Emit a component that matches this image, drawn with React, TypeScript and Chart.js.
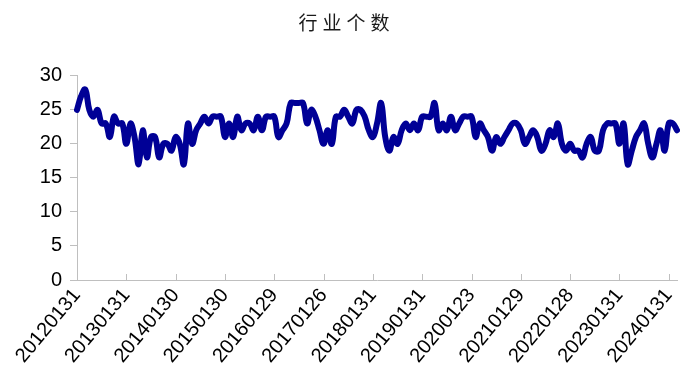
import React, { useEffect, useRef } from "react";
import { Chart, registerables } from "chart.js";

Chart.register(...registerables);

const TITLE = "行业个数";

const DATES: string[] = [
  "20120131","20120229","20120330","20120427","20120531","20120629","20120731","20120831","20120928","20121031","20121130","20121231",
  "20130131","20130228","20130329","20130426","20130531","20130628","20130731","20130830","20130930","20131031","20131129","20131231",
  "20140130","20140228","20140331","20140430","20140530","20140630","20140731","20140829","20140930","20141031","20141128","20141231",
  "20150130","20150227","20150331","20150430","20150529","20150630","20150731","20150831","20150930","20151030","20151130","20151231",
  "20160129","20160229","20160331","20160429","20160531","20160630","20160729","20160831","20160930","20161031","20161130","20161230",
  "20170126","20170228","20170331","20170428","20170531","20170630","20170731","20170831","20170929","20171031","20171130","20171229",
  "20180131","20180228","20180330","20180427","20180531","20180629","20180731","20180831","20180928","20181031","20181130","20181228",
  "20190131","20190228","20190329","20190430","20190531","20190628","20190731","20190830","20190930","20191031","20191129","20191231",
  "20200123","20200228","20200331","20200430","20200529","20200630","20200731","20200831","20200930","20201030","20201130","20201231",
  "20210129","20210226","20210331","20210430","20210531","20210630","20210730","20210831","20210930","20211029","20211130","20211231",
  "20220128","20220228","20220331","20220429","20220531","20220630","20220729","20220831","20220930","20221031","20221130","20221230",
  "20230131","20230228","20230331","20230428","20230531","20230630","20230731","20230831","20230928","20231031","20231130","20231229",
  "20240131","20240229","20240329",
];

const INDUSTRY_COUNT: number[] = [
  25, 27, 28, 25, 24, 25, 23, 23, 21, 24, 23, 23,
  20, 23, 21, 17, 22, 18, 21, 21, 18, 20, 20, 19,
  21, 20, 17, 23, 20, 22, 23, 24, 23, 24, 24, 24,
  21, 23, 21, 24, 22, 23, 23, 22, 24, 22, 24, 24,
  24, 21, 22, 23, 26, 26, 26, 26, 23, 25, 24, 22,
  20, 22, 20, 24, 24, 25, 24, 23, 25, 25, 24, 22,
  21, 23, 26, 21, 19, 21, 20, 22, 23, 22, 23, 22,
  24, 24, 24, 26, 22, 23, 22, 24, 22, 23, 24, 24,
  24, 21, 23, 22, 21, 19, 21, 20, 21, 22, 23, 23,
  22, 20, 21, 22, 21, 19, 20, 22, 21, 23, 20, 19,
  20, 19, 19, 18, 20, 21, 19, 19, 22, 23, 23, 23,
  20, 23, 17, 19, 21, 22, 23, 20, 18, 20, 22, 19,
  23, 23, 22,
];

const Y_MIN = 0;
const Y_MAX = 30;
const Y_STEP = 5;
const LABEL_EVERY = 12;

const AXIS_COLOR = "#bfbfbf";
const LINE_COLOR = "#000096";
const FONT = "'Liberation Sans', Arial, sans-serif";

const innerTicks = {
  id: "innerTicks",
  beforeDraw(chart: any) {
    (chart.ctx as any).letterSpacing = "5px";
  },
  beforeDatasetsDraw(chart: any) {
    (chart.ctx as any).letterSpacing = "0px";
  },
  afterDraw(chart: any) {
    const x = chart.scales.x;
    const ctx = chart.ctx;
    ctx.save();
    ctx.strokeStyle = AXIS_COLOR;
    ctx.lineWidth = 1;
    ctx.beginPath();
    for (let i = 0; i < DATES.length; i += LABEL_EVERY) {
      const px = Math.round(x.getPixelForValue(i)) + 0.5;
      ctx.moveTo(px, x.top);
      ctx.lineTo(px, x.top - 6);
    }
    ctx.stroke();
    ctx.restore();
  },
};

export default function App() {
  const ref = useRef<HTMLCanvasElement | null>(null);

  useEffect(() => {
    if (!ref.current) return;
    const chart = new Chart(ref.current, {
      type: "line",
      data: {
        labels: DATES,
        datasets: [
          {
            data: INDUSTRY_COUNT,
            borderColor: LINE_COLOR,
            backgroundColor: LINE_COLOR,
            borderWidth: 6,
            pointRadius: 0,
            tension: 0.4,
            borderCapStyle: "round",
            borderJoinStyle: "round",
            fill: false,
          },
        ],
      },
      options: {
        animation: false,
        responsive: false,
        devicePixelRatio: 1,
        layout: { padding: 0 },
        plugins: {
          legend: { display: false },
          tooltip: { enabled: false },
          title: {
            display: true,
            text: TITLE,
            color: "#1a1a1a",
            font: { family: "'Noto Sans CJK SC', sans-serif", size: 19, weight: "normal" },
            padding: { top: 11, bottom: 42 },
          },
        },
        scales: {
          x: {
            type: "category",
            offset: false,
            grid: { display: false, drawTicks: false },
            border: { display: true, color: AXIS_COLOR, width: 1 },
            ticks: {
              autoSkip: false,
              maxRotation: 50,
              minRotation: 50,
              padding: 4,
              color: "#000",
              z: 1,
              font: { family: FONT, size: 20 },
              callback: (_v: any, i: number) => (i % LABEL_EVERY === 0 ? DATES[i] : ""),
            },
            afterFit: (s: any) => {
              s.height = 107;
              s.paddingLeft = 0;
              s.paddingRight = 16;
            },
          },
          y: {
            min: Y_MIN,
            max: Y_MAX,
            grid: {
              display: true,
              drawOnChartArea: false,
              drawTicks: true,
              tickLength: 7,
              color: AXIS_COLOR,
            },
            border: { display: true, color: AXIS_COLOR, width: 1 },
            ticks: {
              stepSize: Y_STEP,
              padding: 8,
              color: "#000",
              z: 1,
              font: { family: FONT, size: 20 },
            },
            afterFit: (s: any) => {
              s.width = 77;
              s.paddingTop = 0;
              s.paddingBottom = 0;
            },
          },
        },
      },
      plugins: [innerTicks],
    });
    return () => chart.destroy();
  }, []);

  return (
    <div style={{ position: "absolute", left: 0, top: 0, width: 693, height: 387, background: "#fff" }}>
      <canvas ref={ref} width={693} height={387} />
    </div>
  );
}
